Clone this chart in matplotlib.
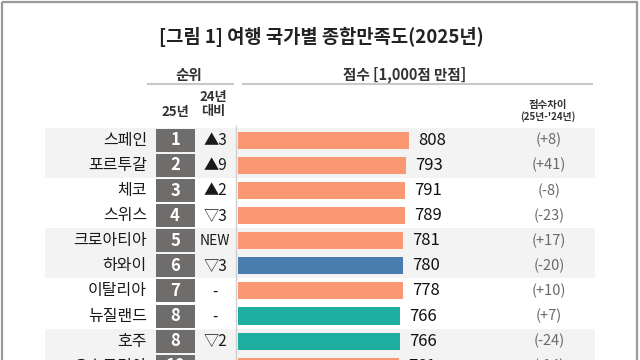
import matplotlib
matplotlib.use("Agg")
import matplotlib.pyplot as plt
from matplotlib.patches import Rectangle

plt.rcParams['font.family'] = ['Noto Sans CJK KR', 'DejaVu Sans']

# data
countries = ['스페인', '포르투갈', '체코', '스위스', '크로아티아',
             '하와이', '이탈리아', '뉴질랜드', '호주', '오스트리아']
ranks = ['1', '2', '3', '4', '5', '6', '7', '8', '8', '10']
rank_change = ['▲3', '▲9', '▲2', '▽3', 'NEW', '▽3', '-', '-', '▽2', '▽3']
scores = [808, 793, 791, 789, 781, 780, 778, 766, 766, 761]
diffs = ['(+8)', '(+41)', '(-8)', '(-23)', '(+17)', '(-20)', '(+10)', '(+7)', '(-24)', '(-14)']
regions = ['eu', 'eu', 'eu', 'eu', 'eu', 'us', 'eu', 'oc', 'oc', 'eu']

region_colors = {'eu': '#FA9874', 'us': '#4A7CB0', 'oc': '#1DAE9F'}

W, H = 640, 360
row0, pitch = 140.3, 25.1   # pixel centre of first row, row spacing

fig = plt.figure(figsize=(W / 100, H / 100), dpi=100)
fig.patch.set_facecolor('white')

# full-figure axes in pixel units for the table furniture
ax = fig.add_axes([0, 0, 1, 1])
ax.set_xlim(0, W)
ax.set_ylim(H, 0)
ax.axis('off')

# outer frame
ax.add_patch(Rectangle((1.5, 1.5), 635, 400, fill=False, edgecolor='#9a9a9a', lw=1.6))

ax.text(321, 37, '[그림 1] 여행 국가별 종합만족도(2025년)', ha='center', va='center',
        fontsize=13.5, fontweight='bold', color='#222222')

# header
hdr = dict(ha='center', va='center', fontweight='bold', color='#333333')
ax.text(189, 75, '순위', fontsize=10.5, **hdr)
ax.plot([148, 233], [84, 84], color='#c8c8c8', lw=1.5)
ax.text(405, 75, '점수 [1,000점 만점]', fontsize=10.5, **hdr)
ax.plot([243, 592], [84, 84], color='#c8c8c8', lw=1.5)
ax.text(175, 112, '25년', fontsize=9.5, **hdr)
ax.text(213, 97, '24년', fontsize=9.5, **hdr)
ax.text(213, 111, '대비', fontsize=9.5, **hdr)
ax.text(548, 105, '점수차이', fontsize=7.5, **hdr)
ax.text(548, 117, "(25년-'24년)", fontsize=7, **hdr)

for i, name in enumerate(countries):
    yc = row0 + pitch * i
    if (i // 2) % 2 == 0:
        ax.add_patch(Rectangle((45, yc - pitch / 2), 550, pitch, color='#f3f3f3', lw=0, zorder=0))
    ax.add_patch(Rectangle((155.5, yc - 11.5), 39, 23, color='#6f6c6c', lw=0, zorder=1))
    ax.text(147, yc, name, ha='right', va='center', fontsize=11.5, color='#1a1a1a')
    ax.text(175, yc, ranks[i], ha='center', va='center', fontsize=12,
            fontweight='bold', color='white', zorder=2)
    ax.text(215, yc, rank_change[i], ha='center', va='center',
            fontsize=10 if rank_change[i] == 'NEW' else 11, color='#1a1a1a')
    ax.text(549, yc, diffs[i], ha='center', va='center', fontsize=10.5, color='#6a6a6a')

ax.plot([236, 236], [126, H], color='#cfcfcf', lw=1)

# bar axes: x in score units, y in row units
bx = fig.add_axes([238 / W, 0, 171 / W, 1])
bx.set_xlim(0, 808)
bx.set_ylim((H - row0) / pitch, -row0 / pitch)
bx.axis('off')
bx.patch.set_alpha(0)

ypos = list(range(len(countries)))
bx.barh(ypos, scores, height=0.68, color=[region_colors[r] for r in regions], zorder=3)
for i, v in enumerate(scores):
    bx.annotate(str(v), (v, i), xytext=(6.5, 0), textcoords='offset points',
                ha='left', va='center', fontsize=12, color='#111111', annotation_clip=False)

fig.savefig('out.png', dpi=100)
